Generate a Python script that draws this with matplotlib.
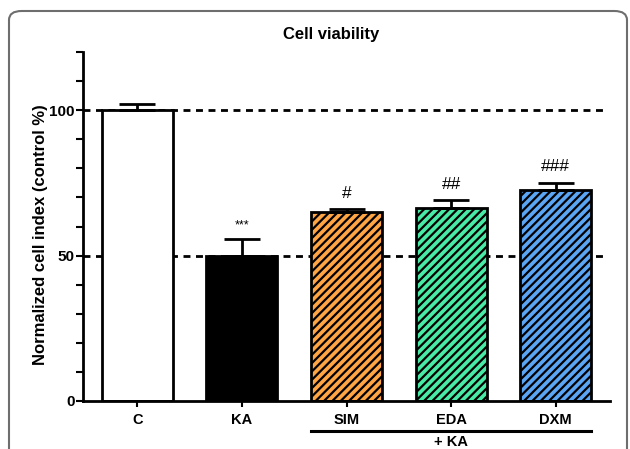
import matplotlib
matplotlib.use("Agg")
import matplotlib.pyplot as plt
from matplotlib.patches import FancyBboxPatch

plt.rcParams['font.family'] = ['Liberation Sans', 'DejaVu Sans']
plt.rcParams['hatch.linewidth'] = 1.6

categories = ["C", "KA", "SIM", "EDA", "DXM"]
means = [100.0, 50.0, 65.0, 66.5, 72.7]
errors = [2.2, 5.6, 1.0, 2.5, 2.4]
annotations = ["", "***", "#", "##", "###"]
colors = ["#FFFFFF", "#000000", "#FFA544", "#48EBA6", "#5AA6F5"]
hatches = [None, None, "////", "////", "////"]
ref_lines = [100, 50]
yticks_labeled = [0, 50, 100]

fig = plt.figure(figsize=(6.3, 4.49), dpi=100)
W, H = 630, 449
ax = fig.add_axes([83 / W, 1 - 401 / H, (610 - 83) / W, (401 - 52) / H])

x = list(range(len(categories)))
xlim = (-0.52, 4.52)
for r in ref_lines:
    ax.plot([xlim[0], 4.47], [r, r], color='black', lw=2.0,
            linestyle=(0, (2.5, 2.0)), zorder=1, clip_on=False)

for i, (m, c, h) in enumerate(zip(means, colors, hatches)):
    ax.bar(x[i], m, width=0.68, color=c, edgecolor='black', linewidth=2.0,
           hatch=h, zorder=2)

ax.errorbar(x, means, yerr=[[0] * len(means), errors], fmt='none',
            ecolor='black', elinewidth=2.0, capsize=13, capthick=2.0, zorder=3)

for i, (m, e, a) in enumerate(zip(means, errors, annotations)):
    if not a:
        continue
    if a.startswith('*'):
        ax.text(x[i], m + e + 2.6, a, ha='center', va='bottom', fontsize=9)
    else:
        ax.text(x[i], m + e + 2.8, a, ha='center', va='bottom', fontsize=12.5)

ax.set_xlim(*xlim)
ax.set_ylim(0, 120)
ax.set_xticks(x)
ax.set_xticklabels(categories, fontsize=10.5, fontweight='bold')
ax.tick_params(axis='x', length=4, width=1.5, pad=5)
ax.set_yticks(range(0, 121, 10))
ax.set_yticklabels([str(v) if v in yticks_labeled else "" for v in range(0, 121, 10)],
                   fontsize=11, fontweight='bold')
ax.tick_params(axis='y', length=5, width=1.5, pad=1)
for s in ['top', 'right']:
    ax.spines[s].set_visible(False)
for s in ['left', 'bottom']:
    ax.spines[s].set_linewidth(2.0)

ax.set_ylabel("Normalized cell index (control %)", fontsize=12, fontweight='bold')
ax.yaxis.set_label_coords(-0.066, 0.476)
fig.text(331 / W, 1 - 35 / H, "Cell viability", ha='center', va='center',
         fontsize=12, fontweight='bold')

# "+ KA" bracket under treated groups
fig.add_artist(plt.Line2D([311 / W, 591 / W], [1 - 431 / H, 1 - 431 / H],
                          color='black', lw=2.2))
fig.text(451 / W, 1 - 442 / H, "+ KA", ha='center', va='center',
         fontsize=10.5, fontweight='bold')

# outer rounded frame
frame = FancyBboxPatch((9 / W, -0.2), (627 - 9) / W, (1 - 11 / H) + 0.2,
                       boxstyle="round,pad=0,rounding_size=0.02",
                       transform=fig.transFigure, fill=False,
                       edgecolor='#6e6e6e', lw=1.5, clip_on=False)
fig.add_artist(frame)

fig.savefig("out.png", dpi=100)
